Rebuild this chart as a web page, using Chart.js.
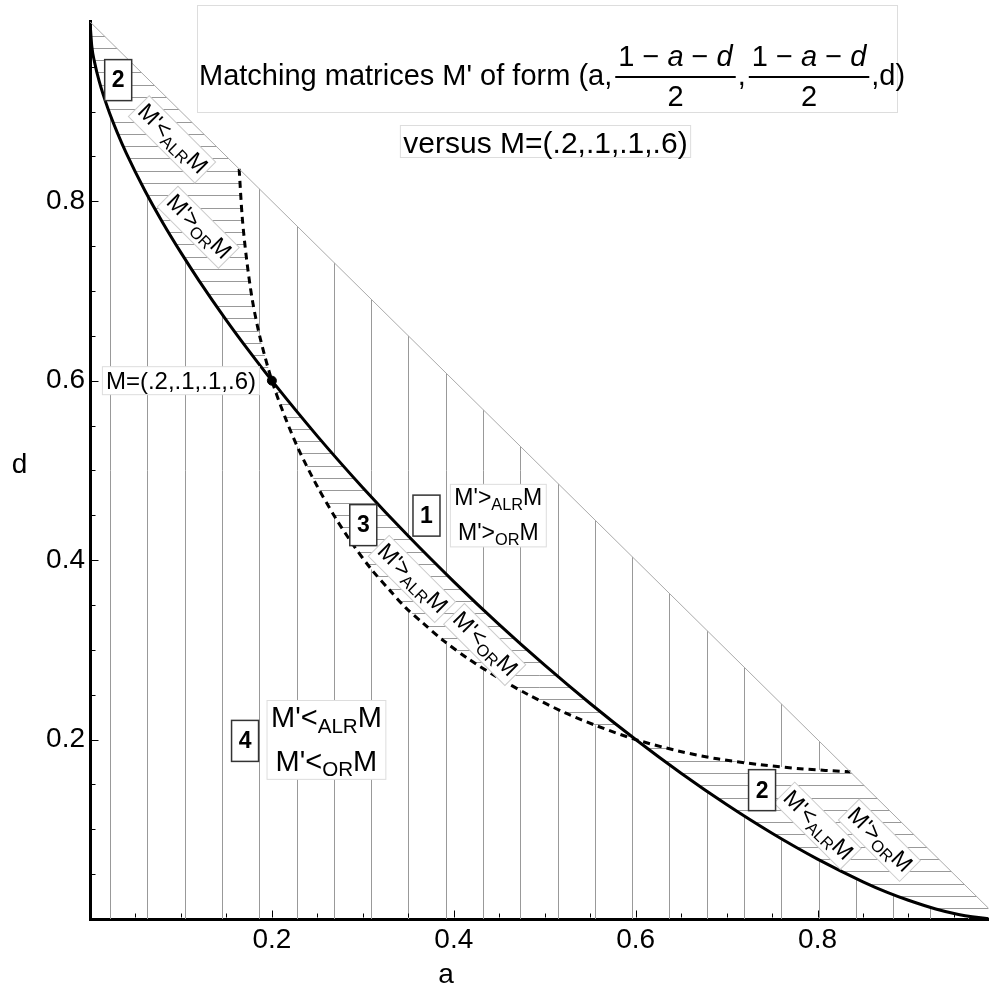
<!DOCTYPE html>
<html>
<head>
<meta charset="utf-8">
<script src="https://cdn.jsdelivr.net/npm/chart.js@4.4.0/dist/chart.umd.min.js"></script>
<style>
  html, body { margin: 0; padding: 0; background: #fff; }
  canvas { display: block; }
</style>
</head>
<body>
<canvas id="myChart" width="994" height="998"></canvas>
<script>
// iso-OR curve through M (solid line)
const orA = [0, 0.002, 0.005, 0.01, 0.02, 0.03, 0.04, 0.06, 0.08, 0.10, 0.12, 0.15, 0.175, 0.20, 0.25, 0.30, 0.35, 0.40, 0.45, 0.50, 0.55, 0.60, 0.65, 0.70, 0.75, 0.80, 0.85, 0.876, 0.90, 0.93, 0.955, 0.97, 0.99, 1.0];
const orD = [1, 0.9725, 0.9551, 0.9342, 0.9024, 0.8764, 0.8533, 0.8125, 0.7761, 0.7427, 0.7113, 0.6673, 0.6329, 0.600, 0.5382, 0.4807, 0.4268, 0.3761, 0.3281, 0.2829, 0.2402, 0.200, 0.1624, 0.1275, 0.0955, 0.0667, 0.0415, 0.030, 0.0209, 0.0112, 0.0050, 0.0024, 0.0003, 0];

// iso-ALR curve through M (dashed line)
const alrA = [0.164, 0.1675, 0.172, 0.1785, 0.187, 0.200, 0.215, 0.230, 0.250, 0.270, 0.290, 0.310, 0.330, 0.347, 0.366, 0.389, 0.416, 0.447, 0.482, 0.522, 0.558, 0.600, 0.648, 0.690, 0.737, 0.781, 0.836];
const alrD = [0.836, 0.781, 0.737, 0.690, 0.648, 0.600, 0.558, 0.522, 0.482, 0.447, 0.416, 0.389, 0.366, 0.347, 0.330, 0.310, 0.290, 0.270, 0.250, 0.230, 0.215, 0.200, 0.187, 0.1785, 0.172, 0.1675, 0.164];

// boundary b = c = 0  (a + d = 1)
const edgeA = [0, 1];
const edgeD = [1, 0];

const refPoint = [0.2, 0.6];      // M
const crossA = [0.2, 0.6];        // where the two curves cross
const tickValues = [0.2, 0.4, 0.6, 0.8];

// region labels (data coords)
const boxNums = [
  { n: '2', a: 0.031, d: 0.935 },
  { n: '3', a: 0.3005, d: 0.439 },
  { n: '1', a: 0.370, d: 0.4496 },
  { n: '4', a: 0.1705, d: 0.1985 },
  { n: '2', a: 0.739, d: 0.1436 }
];
const tagLabels = [
  { op: '<', who: 'ALR', a: 0.0902, d: 0.869 },
  { op: '>', who: 'OR', a: 0.119, d: 0.771 },
  { op: '>', who: 'ALR', a: 0.354, d: 0.379 },
  { op: '<', who: 'OR', a: 0.434, d: 0.306 },
  { op: '<', who: 'ALR', a: 0.800, d: 0.104 },
  { op: '>', who: 'OR', a: 0.868, d: 0.0877 }
];
const stacks = [
  { ops: ['>', '>'], a: 0.449, d: 0.4496, size: 23 },
  { ops: ['<', '<'], a: 0.260, d: 0.1996, size: 29 }
];

const FONT = '"Liberation Sans", Arial, sans-serif';
const SUB = 0.71;
const hatch = { vStart: 0.0222, vStep: 0.041, hStart: 0.012, hStep: 0.0137, color: '#999' };

const rel = (op, who) => [{ t: "M'" + op }, { t: who, sub: true }, { t: 'M' }];

function richWidth(ctx, parts, size) {
  let w = 0;
  parts.forEach(p => {
    ctx.font = (p.sub ? size * SUB : size) + 'px ' + FONT;
    w += ctx.measureText(p.t).width;
  });
  return w;
}
function drawRich(ctx, parts, x, y, size) {
  parts.forEach(p => {
    ctx.font = (p.sub ? size * SUB : size) + 'px ' + FONT;
    ctx.fillText(p.t, x, p.sub ? y + size * 0.2 : y);
    x += ctx.measureText(p.t).width;
  });
}

function addPoly(ctx, pts) {
  pts.forEach((p, i) => i === 0 ? ctx.moveTo(p[0], p[1]) : ctx.lineTo(p[0], p[1]));
  ctx.closePath();
}

const hatchPlugin = {
  id: 'hatch',
  beforeDatasetsDraw(chart) {
    const { ctx, chartArea: ca, scales: { x, y } } = chart;
    const px = (a, d) => [x.getPixelForValue(a), y.getPixelForValue(d)];
    const orPts = orA.map((a, i) => [a, orD[i]]);
    const alrPts = alrA.map((a, i) => [a, alrD[i]]);
    const seg = (pts, lo, hi) => pts.filter(p => p[0] >= lo - 1e-9 && p[0] <= hi + 1e-9);
    const bounds = [0, crossA[0], crossA[1], 1];
    const regions = [];
    for (let i = 0; i < 3; i++) {
      const r = seg(orPts, bounds[i], bounds[i + 1]).concat(seg(alrPts, bounds[i], bounds[i + 1]).reverse());
      regions.push(r.map(p => px(p[0], p[1])));
    }

    // vertical hatching: triangle minus the "disagreement" regions
    ctx.save();
    ctx.beginPath(); ctx.rect(ca.left, ca.top, ca.width, ca.height); ctx.clip();
    ctx.beginPath();
    addPoly(ctx, [px(0, 0), px(1, 0), px(0, 1)]);
    regions.forEach(r => addPoly(ctx, r));
    ctx.clip('evenodd');
    ctx.strokeStyle = hatch.color; ctx.lineWidth = 1;
    ctx.beginPath();
    for (let a = hatch.vStart; a < x.max; a += hatch.vStep) {
      const X = Math.round(x.getPixelForValue(a)) + 0.5;
      ctx.moveTo(X, ca.top); ctx.lineTo(X, ca.bottom);
    }
    ctx.stroke();
    ctx.restore();

    // horizontal hatching inside regions 2 and 3
    ctx.save();
    ctx.beginPath(); ctx.rect(ca.left, ca.top, ca.width, ca.height); ctx.clip();
    ctx.beginPath();
    regions.forEach(r => addPoly(ctx, r));
    ctx.clip();
    ctx.strokeStyle = hatch.color; ctx.lineWidth = 1;
    ctx.beginPath();
    for (let d = hatch.hStart; d < 1; d += hatch.hStep) {
      const Y = Math.round(y.getPixelForValue(d)) + 0.5;
      ctx.moveTo(ca.left, Y); ctx.lineTo(ca.right, Y);
    }
    ctx.stroke();
    ctx.restore();
  }
};

const labelPlugin = {
  id: 'labels',
  afterDatasetsDraw(chart) {
    const { ctx, scales: { x, y } } = chart;
    const P = (a, d) => [x.getPixelForValue(a), y.getPixelForValue(d)];
    ctx.save();
    ctx.textAlign = 'left';
    ctx.textBaseline = 'alphabetic';

    // M label
    {
      const [cx, cy] = P(0.1, refPoint[1]);
      ctx.font = '24px ' + FONT;
      const t = 'M=(.2,.1,.1,.6)';
      const w = ctx.measureText(t).width + 7, h = 28;
      ctx.fillStyle = '#fff'; ctx.fillRect(cx - w / 2, cy - h / 2, w, h);
      ctx.strokeStyle = '#ddd'; ctx.lineWidth = 1; ctx.strokeRect(cx - w / 2, cy - h / 2, w, h);
      ctx.fillStyle = '#000'; ctx.fillText(t, cx - w / 2 + 3.5, cy + 8.5);
    }

    // rotated tags along the curves
    tagLabels.forEach(l => {
      const [cx, cy] = P(l.a, l.d);
      const parts = rel(l.op, l.who), size = 23;
      ctx.save();
      ctx.translate(cx, cy); ctx.rotate(45 * Math.PI / 180);
      const w = richWidth(ctx, parts, size) + 6, h = size * 1.28;
      ctx.fillStyle = '#fff'; ctx.fillRect(-w / 2, -h / 2, w, h);
      ctx.strokeStyle = '#ccc'; ctx.lineWidth = 1; ctx.strokeRect(-w / 2, -h / 2, w, h);
      ctx.fillStyle = '#000';
      drawRich(ctx, parts, -w / 2 + 3, size * 0.28, size);
      ctx.restore();
    });

    // stacked region texts
    stacks.forEach(s => {
      const [cx, cy] = P(s.a, s.d);
      const l1 = rel(s.ops[0], 'ALR'), l2 = rel(s.ops[1], 'OR');
      const w1 = richWidth(ctx, l1, s.size), w2 = richWidth(ctx, l2, s.size);
      const w = Math.max(w1, w2) + 8, h = s.size * 2.72;
      ctx.fillStyle = '#fff'; ctx.fillRect(cx - w / 2, cy - h / 2, w, h);
      ctx.strokeStyle = '#ddd'; ctx.lineWidth = 1; ctx.strokeRect(cx - w / 2, cy - h / 2, w, h);
      ctx.fillStyle = '#000';
      const b1 = cy - s.size * 0.44;
      drawRich(ctx, l1, cx - w1 / 2, b1, s.size);
      drawRich(ctx, l2, cx - w2 / 2, b1 + s.size * 1.5, s.size);
    });

    // numbered boxes
    boxNums.forEach(b => {
      const [cx, cy] = P(b.a, b.d);
      const w = 27, h = 41;
      ctx.fillStyle = '#fff'; ctx.fillRect(cx - w / 2, cy - h / 2, w, h);
      ctx.strokeStyle = '#333'; ctx.lineWidth = 1.5; ctx.strokeRect(cx - w / 2, cy - h / 2, w, h);
      ctx.fillStyle = '#000'; ctx.font = 'bold 23px ' + FONT;
      ctx.textAlign = 'center'; ctx.textBaseline = 'middle';
      ctx.fillText(b.n, cx, cy + 1);
      ctx.textAlign = 'left'; ctx.textBaseline = 'alphabetic';
    });
    ctx.restore();
  },
  afterDraw(chart) {
    const { ctx, chartArea: ca, scales: { x, y } } = chart;
    ctx.save();
    // inward ticks
    ctx.strokeStyle = '#000'; ctx.lineWidth = 1;
    ctx.beginPath();
    for (let i = 1; i < 20; i++) {
      const v = i * 0.05, len = i % 4 === 0 ? 7 : 4;
      const X = Math.round(x.getPixelForValue(v)) + 0.5;
      if (X < ca.right) { ctx.moveTo(X, ca.bottom - 1.5); ctx.lineTo(X, ca.bottom - 1.5 - len); }
      const Y = Math.round(y.getPixelForValue(v)) + 0.5;
      ctx.moveTo(ca.left + 1.5, Y); ctx.lineTo(ca.left + 1.5 + len, Y);
    }
    ctx.stroke();

    // axis titles
    ctx.fillStyle = '#000'; ctx.font = '28px ' + FONT;
    ctx.textAlign = 'center'; ctx.textBaseline = 'alphabetic';
    ctx.fillText('a', 446, 983);
    ctx.fillText('d', 19.5, 473);

    // title box
    ctx.fillStyle = '#fff'; ctx.fillRect(197, 5, 700, 107);
    ctx.strokeStyle = '#ddd'; ctx.lineWidth = 1; ctx.strokeRect(197.5, 5.5, 700, 107);
    const fs = 29;
    const nf = fs + 'px ' + FONT, itf = 'italic ' + fs + 'px ' + FONT;
    ctx.fillStyle = '#000'; ctx.textAlign = 'left';
    ctx.font = nf;
    let cx = 199;
    const main = "Matching matrices M' of form (a,";
    ctx.fillText(main, cx, 85);
    cx += ctx.measureText(main).width + 3;
    const numParts = [['1', nf], [' \u2212 ', nf], ['a', itf], [' \u2212 ', nf], ['d', itf]];
    const fraction = () => {
      let nw = 0;
      numParts.forEach(p => { ctx.font = p[1]; nw += ctx.measureText(p[0]).width; });
      const fw = nw + 6;
      let nx = cx + 3;
      numParts.forEach(p => { ctx.font = p[1]; ctx.fillText(p[0], nx, 66); nx += ctx.measureText(p[0]).width; });
      ctx.fillRect(cx, 76, fw, 2);
      ctx.font = nf; ctx.textAlign = 'center';
      ctx.fillText('2', cx + fw / 2, 106);
      ctx.textAlign = 'left';
      cx += fw + 2;
    };
    fraction();
    ctx.font = nf; ctx.fillText(',', cx, 85); cx += ctx.measureText(',').width + 3;
    fraction();
    ctx.font = nf; ctx.fillText(',d)', cx, 85);

    // versus box
    ctx.font = '30px ' + FONT;
    const vt = 'versus M=(.2,.1,.1,.6)';
    const vw = ctx.measureText(vt).width + 6;
    ctx.fillStyle = '#fff'; ctx.fillRect(545.5 - vw / 2, 125, vw, 32);
    ctx.strokeStyle = '#ddd'; ctx.strokeRect(545.5 - vw / 2, 125.5, vw, 32);
    ctx.fillStyle = '#000'; ctx.textAlign = 'center';
    ctx.fillText(vt, 545.5, 153);
    ctx.restore();
  }
};

const ctx = document.getElementById('myChart').getContext('2d');
new Chart(ctx, {
  type: 'scatter',
  data: {
    datasets: [
      {
        data: edgeA.map((a, i) => ({ x: a, y: edgeD[i] })),
        showLine: true, borderColor: '#aaa', borderWidth: 1, pointRadius: 0
      },
      {
        data: alrA.map((a, i) => ({ x: a, y: alrD[i] })),
        showLine: true, borderColor: '#000', borderWidth: 3, borderDash: [7, 5],
        tension: 0.3, pointRadius: 0
      },
      {
        data: orA.map((a, i) => ({ x: a, y: orD[i] })),
        showLine: true, borderColor: '#000', borderWidth: 3,
        cubicInterpolationMode: 'monotone', pointRadius: 0
      },
      {
        data: [{ x: refPoint[0], y: refPoint[1] }],
        showLine: false, pointRadius: 4.5, pointBackgroundColor: '#000', pointBorderColor: '#000'
      }
    ]
  },
  options: {
    responsive: false,
    animation: false,
    layout: { padding: { top: 7, right: 0, left: 0, bottom: 0 } },
    plugins: { legend: { display: false }, tooltip: { enabled: false } },
    scales: {
      x: {
        type: 'linear', min: 0, max: 0.988,
        afterFit: s => { s.height = 79; },
        afterBuildTicks: s => { s.ticks = tickValues.map(v => ({ value: v })); },
        ticks: { callback: v => v.toFixed(1), font: { family: FONT, size: 28 }, color: '#000', padding: 4, maxRotation: 0 },
        grid: { display: false, drawTicks: false },
        border: { display: true, color: '#000', width: 3 }
      },
      y: {
        type: 'linear', min: 0, max: 1,
        afterFit: s => { s.width = 90; },
        afterBuildTicks: s => { s.ticks = tickValues.map(v => ({ value: v })); },
        ticks: { callback: v => v.toFixed(1), font: { family: FONT, size: 28 }, color: '#000', padding: 5 },
        grid: { display: false, drawTicks: false },
        border: { display: true, color: '#000', width: 3 }
      }
    }
  },
  plugins: [hatchPlugin, labelPlugin]
});
</script>
</body>
</html>
